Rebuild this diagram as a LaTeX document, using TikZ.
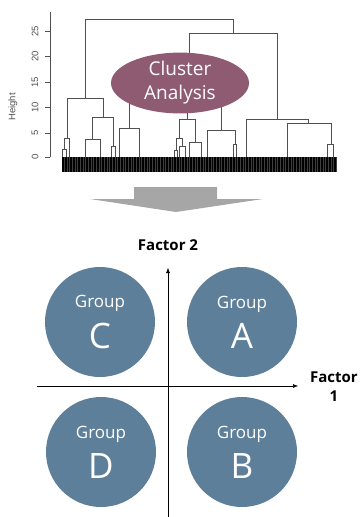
\documentclass[tikz,border=0pt]{standalone}
\usepackage{fontspec}
\setmainfont{Open Sans}
\newfontfamily\rfont{Liberation Sans}
\usetikzlibrary{positioning,arrows.meta,shapes.geometric}

\definecolor{treegray}{HTML}{505050}
\definecolor{mauve}{HTML}{8E5B72}
\definecolor{grpblue}{HTML}{5E7F99}
\definecolor{arrgray}{HTML}{A6A6A6}

\tikzset{
  link/.style={treegray, line width=0.9pt},
  grp/.style={circle, fill=grpblue, minimum size=110pt, inner sep=0pt,
    text=white, align=center},
  axis/.style={line width=0.5pt, -{Latex[length=5pt,width=4pt]}},
  factor/.style={font=\fontsize{15}{19}\selectfont\bfseries, align=center},
  rtick/.style={rotate=90, font=\rfont\fontsize{9.5}{9.5}\selectfont, text=treegray}
}
\newcommand{\grplabel}[1]{{\fontsize{17}{17}\selectfont Group}\\[10pt]{\fontsize{35}{35}\selectfont #1}}

\begin{document}
\begin{tikzpicture}[x=1pt,y=-1pt]
  \useasboundingbox (0,0) rectangle (362,517);

  % dendrogram axis
  \draw[treegray, line width=0.6pt] (50,12) -- (50,157);
  \foreach \v/\y in {0/157, 5/133, 10/107, 15/82, 20/56, 25/31}{
    \draw[treegray, line width=0.6pt] (50,\y) -- (45,\y);
    \node[rtick] (tk\v) at (35,\y) {\v};
  }
  \node[rtick] (hgt) at (13,107) {Height};

  % leaves
  \fill[black!75] (62,157) rectangle (337,172);
  \foreach \x in {62,63.6,...,337}{
    \draw[black, line width=0.8pt] (\x,157) -- (\x,172);
  }

  % merges: left x / left y / right x / right y / height
  \foreach \xa/\ya/\xb/\yb/\h in {85/98/233/33.7/19.3, 189/85/277/119/33.7,
      158/95/221/130/85, 129/128/187/119/95, 67/138/103/117/98,
      64/149/69/157/138, 62/157/66/157/149, 92/139/113/146/117,
      85/157/100/157/139, 111/157/115/157/146, 119/157/139/157/128,
      179/138/195/142/119, 176/150/182/146/138, 174/157/177/157/150,
      179/157/185/157/146, 189/157/201/157/142, 207/157/235/144/130,
      233/157/236/157/144, 246/157/308/123/119, 287/157/331/144/123,
      327/157/333/157/144}{
    \draw[link] (\xa,\ya) -- (\xa,\h) -- (\xb,\h) -- (\xb,\yb);
  }

  \node[ellipse, fill=mauve, minimum width=138pt, minimum height=52pt, inner sep=0pt,
    text=white, align=center, font=\fontsize{19}{24}\selectfont] (clus) at (180,83)
    {Cluster\\Analysis};

  % block arrow
  \fill[arrgray] (134,187) -- (217,187) -- (217,199) -- (263,199) -- (176,212)
    -- (90,199) -- (134,199) -- cycle;

  % factor plane
  \coordinate (xl) at (37,386);
  \coordinate (xr) at (298,386);
  \coordinate (yb) at (168,517);
  \coordinate (yt) at (168,268);
  \node[grp] (grpC) at (100,322) {\grplabel{C}};
  \node[grp] (grpA) at (242,322) {\grplabel{A}};
  \node[grp] (grpD) at (101,452) {\grplabel{D}};
  \node[grp] (grpB) at (242,452) {\grplabel{B}};
  \draw[axis] (xl) -- (xr);
  \draw[axis] (yb) -- (yt);
  \node[factor] (f2) at (168,245) {Factor 2};
  \node[factor] (f1) at (334,387) {Factor\\1};
\end{tikzpicture}
\end{document}
